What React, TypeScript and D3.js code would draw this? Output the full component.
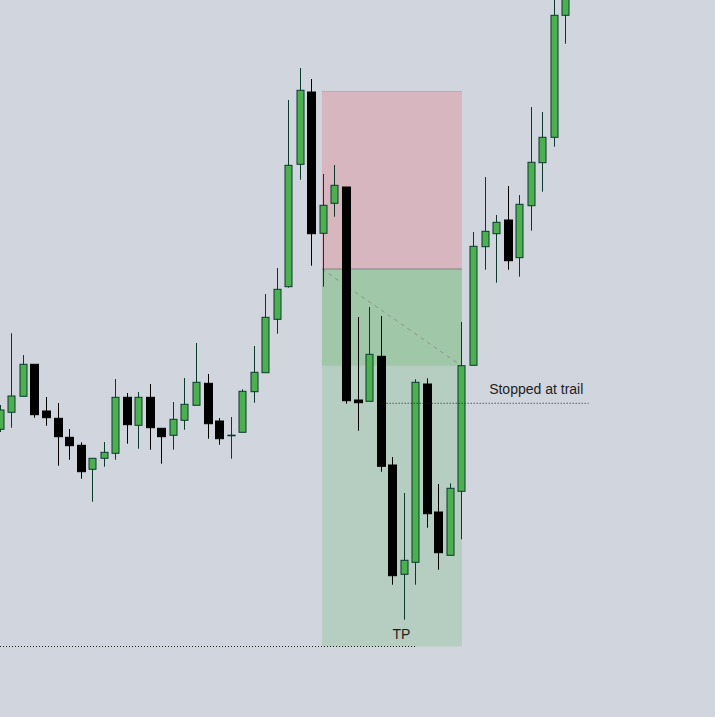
import React from "react";
import * as d3 from "d3";

const W = 715;
const H = 717;

const opens = [1.10707,1.10877,1.11037,1.11357,1.1089,1.10817,1.10627,1.10547,1.10307,1.10417,1.10467,1.11027,1.10747,1.11027,1.10717,1.10647,1.10797,1.10947,1.11167,1.1079,1.10647,1.10677,1.11083,1.11273,1.11807,1.12133,1.13357,1.1408,1.12667,1.12967,1.1313,1.11,1.10987,1.11437,1.1035,1.09257,1.09377,1.1116,1.0988,1.09447,1.10087,1.11347,1.12533,1.12663,1.128,1.12423,1.12943,1.13373,1.13627,1.14847];
const highs = [1.1095,1.11667,1.1145,1.11357,1.1103,1.1097,1.1071,1.10577,1.10417,1.1058,1.1121,1.1107,1.1108,1.1116,1.10717,1.1098,1.1122,1.1157,1.1126,1.1082,1.1083,1.11107,1.1154,1.1206,1.1232,1.14,1.1432,1.1421,1.1326,1.1335,1.1313,1.1183,1.1193,1.1184,1.1043,1.1007,1.11207,1.11217,1.1016,1.10167,1.1178,1.1268,1.1323,1.1285,1.1314,1.1305,1.1393,1.1388,1.1505,1.152];
const lows = [1.1068,1.10723,1.11037,1.10823,1.10743,1.10343,1.10403,1.10213,1.09983,1.10333,1.10403,1.10563,1.10513,1.10503,1.10363,1.10503,1.10703,1.10947,1.10613,1.10553,1.10413,1.10677,1.10973,1.11273,1.11663,1.12123,1.13203,1.12343,1.12133,1.12833,1.10963,1.10693,1.10987,1.10283,1.09153,1.08803,1.09153,1.09723,1.09303,1.09447,1.09607,1.11347,1.12303,1.12173,1.12303,1.12233,1.12693,1.13083,1.13533,1.14563];
const closes = [1.109,1.1104,1.11357,1.10853,1.10823,1.10633,1.10543,1.10283,1.10417,1.10477,1.11027,1.10753,1.11027,1.10723,1.10633,1.10807,1.10957,1.11177,1.10763,1.10613,1.10647,1.11087,1.11277,1.11827,1.12107,1.13347,1.14097,1.12663,1.12947,1.13147,1.10993,1.10973,1.11457,1.10337,1.09243,1.09397,1.11177,1.09863,1.09473,1.10117,1.11343,1.12537,1.12687,1.12777,1.12393,1.12957,1.13377,1.13627,1.14847,1.151];

// Short position tool
const positionStart = 28;
const positionEnd = 40;
const entryPrice = 1.1231;
const stopPrice = 1.1409;
const targetPrice = 1.08535;

// Annotations
const tpLabel = "TP";
const tpLineEnd = 36;
const tpLabelAt = 34.8;
const trailLabel = "Stopped at trail";
const trailPrice = 1.10967;
const trailLineStart = 33;
const trailLineEnd = 51;
const trailLabelAt = 42.4;

export default function App() {
  const x = d3.scaleLinear().domain([0, 49]).range([-0.2, 565.3]);
  const y = d3.scaleLinear().domain([1.15 - H / 10000, 1.15]).range([H, 0]);

  const currentPrice = closes[positionEnd];
  const bx0 = x(positionStart) - 1;
  const bx1 = x(positionEnd) + 0.5;
  const font = "'Liberation Sans', Arial, sans-serif";

  return (
    <div style={{ position: "fixed", left: 0, top: 0, width: W, height: H, background: "#D1D5DD" }}>
      <svg width={W} height={H} style={{ display: "block" }}>
        <rect x={0} y={0} width={W} height={H} fill="#D1D5DD" />
        {/* position boxes */}
        <rect x={bx0} y={y(stopPrice)} width={bx1 - bx0} height={y(entryPrice) - y(stopPrice)} fill="#D8B6BF" />
        <line x1={bx0} x2={bx1} y1={y(stopPrice) + 0.5} y2={y(stopPrice) + 0.5} stroke="#D49FAD" strokeWidth={1} />
        <rect x={bx0} y={y(entryPrice)} width={bx1 - bx0} height={y(targetPrice) - y(entryPrice)} fill="#B6CDC1" />
        <rect x={bx0} y={y(entryPrice)} width={bx1 - bx0} height={y(currentPrice) - y(entryPrice)} fill="#A0C8A8" />
        <line x1={bx0} x2={bx1} y1={y(entryPrice)} y2={y(entryPrice)} stroke="#7E8284" strokeWidth={1.2} />
        <line x1={bx0} y1={y(entryPrice)} x2={x(positionEnd)} y2={y(currentPrice)} stroke="#8A9690" strokeWidth={1} strokeDasharray="4,4" />

        {/* TP line */}
        <line x1={0} x2={x(tpLineEnd)} y1={y(targetPrice)} y2={y(targetPrice)} stroke="#222" strokeWidth={1} strokeDasharray="1,2" />
        <text x={x(tpLabelAt)} y={y(targetPrice) - 7.5} textAnchor="middle" fontFamily={font} fontSize={14} fill="#1E1E1E">{tpLabel}</text>

        {/* candles */}
        {closes.map((c, i) => {
          const o = opens[i];
          const up = c >= o;
          const cx = Math.round(x(i)) + 0.5;
          const top = y(Math.max(o, c));
          const bot = y(Math.min(o, c));
          const stroke = up ? "#0B3A2C" : "#000000";
          return (
            <g key={i}>
              <line x1={cx} x2={cx} y1={y(highs[i])} y2={y(lows[i])} stroke={stroke} strokeWidth={1} />
              {up ? (
                <rect x={cx - 3.5} y={top} width={7} height={Math.max(bot - top, 0.5)} fill="#4CAF50" stroke={stroke} strokeWidth={1} />
              ) : (
                <rect x={cx - 4} y={top} width={8} height={Math.max(bot - top, 1)} fill="#000" stroke="#000" strokeWidth={1} />
              )}
              {up && bot - top < 1 ? (
                <line x1={cx - 4} x2={cx + 4} y1={top} y2={top} stroke={stroke} strokeWidth={1} />
              ) : null}
            </g>
          );
        })}

        {/* trail stop line */}
        <line x1={x(trailLineStart)} x2={x(trailLineEnd)} y1={y(trailPrice)} y2={y(trailPrice)} stroke="#222" strokeWidth={1} strokeDasharray="1,2" />
        <text x={x(trailLabelAt)} y={y(trailPrice) - 9} fontFamily={font} fontSize={14} fill="#1E1E1E">{trailLabel}</text>
      </svg>
    </div>
  );
}
